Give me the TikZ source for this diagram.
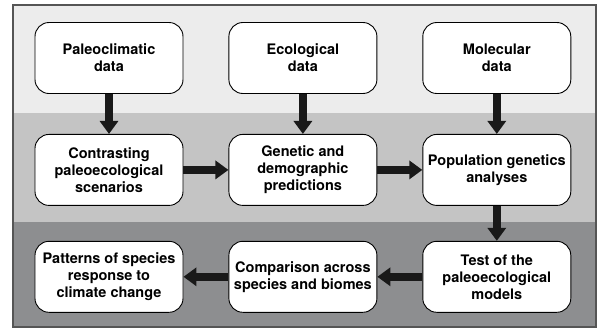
\documentclass[tikz,border=0pt]{standalone}
\usepackage{fontspec}
\setmainfont{TeX Gyre Heros}
\usepackage{tikz}
\usetikzlibrary{arrows.meta,positioning}

\definecolor{bandtop}{HTML}{ECECEC}
\definecolor{bandmid}{HTML}{C4C4C4}
\definecolor{bandlow}{HTML}{8D8E90}
\definecolor{framegray}{HTML}{555555}

\begin{document}
\begin{tikzpicture}[
  x=1pt, y=1pt,
  node distance=40pt and 45pt,
  stage/.style={draw, line width=0.9pt, rounded corners=14pt, align=center, fill=white,
    minimum width=148pt, minimum height=71pt, font=\fontsize{14.5}{17}\selectfont\bfseries},
  flow/.style={-{Triangle[length=13pt 0 0, width=18pt 0 0]}, line width=7.5pt, draw=black!90}
]
\useasboundingbox (0,0) rectangle (598,-330);

% shaded bands
\fill[bandtop] (13,-5) rectangle (596,-113);
\fill[bandmid] (13,-113) rectangle (596,-222);
\fill[bandlow] (13,-222) rectangle (596,-327);
\draw[framegray, line width=1.4pt] (13,-5) rectangle (596,-327);

% data sources
\node[stage] (paleo) at (109,-58) {Paleoclimatic\\data};
\node[stage, right=of paleo] (eco) {Ecological\\data};
\node[stage, right=of eco] (mol) {Molecular\\data};

% predictions
\node[stage, below=of paleo] (scen) {Contrasting\\paleoecological\\scenarios};
\node[stage, below=of eco] (pred) {Genetic and\\demographic\\predictions};
\node[stage, below=of mol] (popgen) {Population genetics\\analyses};

% tests
\node[stage, below=35pt of popgen] (test) {Test of the\\paleoecological\\models};
\node[stage, below=35pt of pred] (comp) {Comparison across\\species and biomes};
\node[stage, below=35pt of scen] (pattern) {Patterns of species\\response to\\climate change};

\draw[flow] (paleo) -- (scen);
\draw[flow] (eco) -- (pred);
\draw[flow] (mol) -- (popgen);
\draw[flow] (scen) -- (pred);
\draw[flow] (pred) -- (popgen);
\draw[flow] (popgen) -- (test);
\draw[flow] (test) -- (comp);
\draw[flow] (comp) -- (pattern);
\end{tikzpicture}
\end{document}
